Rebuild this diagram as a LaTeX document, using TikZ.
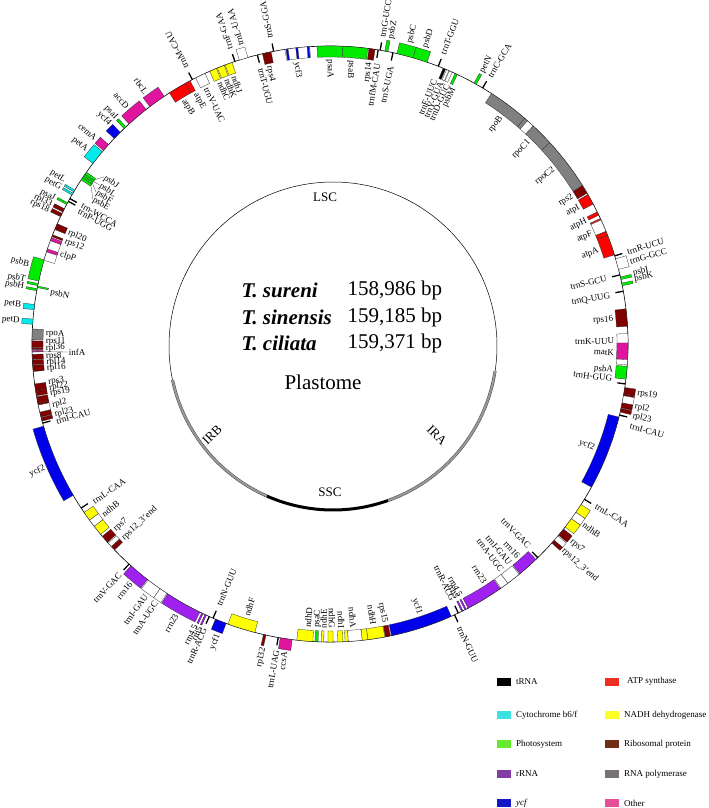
\documentclass[tikz,border=0pt]{standalone}
\usepackage{fontspec}
\setmainfont{Liberation Serif}
\usepackage{xcolor}

% map colours
\definecolor{trnacol}{RGB}{0,0,0}
\definecolor{cytcol}{RGB}{0,235,235}
\definecolor{pscol}{RGB}{0,235,0}
\definecolor{rrnacol}{RGB}{160,32,240}
\definecolor{ycfcol}{RGB}{0,0,235}
\definecolor{atpcol}{RGB}{255,0,0}
\definecolor{ndhcol}{RGB}{255,255,0}
\definecolor{ribocol}{RGB}{128,0,0}
\definecolor{polcol}{RGB}{128,128,128}
\definecolor{othercol}{RGB}{225,20,160}
% legend colours
\definecolor{legtrna}{RGB}{0,0,0}
\definecolor{legcyt}{RGB}{60,225,225}
\definecolor{legps}{RGB}{100,235,50}
\definecolor{legrrna}{RGB}{130,60,165}
\definecolor{legycf}{RGB}{20,20,200}
\definecolor{legatp}{RGB}{238,45,35}
\definecolor{legndh}{RGB}{255,255,40}
\definecolor{legribo}{RGB}{110,45,20}
\definecolor{legpol}{RGB}{120,115,115}
\definecolor{legother}{RGB}{228,80,150}

\newcounter{lab}
\newcommand{\geneout}[3]{%
  \filldraw[genebox,fill=#3] ({90-#1}:298) arc[start angle={90-#1},end angle={90-#2},radius=298]
    -- ({90-#2}:309) arc[start angle={90-#2},end angle={90-#1},radius=309] -- cycle;}
\newcommand{\genein}[3]{%
  \filldraw[genebox,fill=#3] ({90-#1}:298) arc[start angle={90-#1},end angle={90-#2},radius=298]
    -- ({90-#2}:287) arc[start angle={90-#2},end angle={90-#1},radius=287] -- cycle;}
\newcommand{\trnaout}[1]{\draw[trnatick] ({90-#1}:298) -- ({90-#1}:306);}
\newcommand{\trnain}[1]{\draw[trnatick] ({90-#1}:298) -- ({90-#1}:290);}
\newcommand{\labout}[2]{%
  \stepcounter{lab}%
  \pgfmathtruncatemacro{\lflip}{and(#1>180,#1<328)}%
  \ifnum\lflip=1
    \node[glabel,anchor=east,rotate={270-#1}] (lab\thelab) at ({90-#1}:310.5) {#2};
  \else
    \node[glabel,anchor=west,rotate={90-#1}] (lab\thelab) at ({90-#1}:310.5) {#2};
  \fi}
\newcommand{\labin}[2]{%
  \stepcounter{lab}%
  \pgfmathtruncatemacro{\lflip}{and(#1>5,#1<180)}%
  \ifnum\lflip=1
    \node[glabel,anchor=east,rotate={90-#1}] (lab\thelab) at ({90-#1}:285) {#2};
  \else
    \node[glabel,anchor=west,rotate={270-#1}] (lab\thelab) at ({90-#1}:285) {#2};
  \fi}

\begin{document}
\begin{tikzpicture}[x=1pt,y=1pt,
  genebox/.style={draw=black!80,line width=0.3pt},
  trnatick/.style={draw=black,line width=1.3pt},
  glabel/.style={font=\fontsize{9}{10}\selectfont,inner sep=0.6pt},
  leader/.style={draw=black!70,line width=0.3pt},
  legbox/.style={minimum width=14pt,minimum height=8pt,inner sep=0pt},
  legtext/.style={font=\fontsize{9}{10}\selectfont,anchor=west,inner sep=0pt}]
\fill[white] (-330,-464) rectangle (379,344);
\useasboundingbox (-330,-464) rectangle (379,344);

% inner circle with regions
\draw[line width=0.5pt] (3,-2) circle[radius=164];
\draw[line width=3pt,black!70] (3,-2) ++({90-98.8}:164) arc[start angle={90-98.8},end angle={90-160.4},radius=164];
\draw[line width=2pt,gray!80] (3,-2) ++({90-98.8}:164) arc[start angle={90-98.8},end angle={90-160.4},radius=164];
\draw[line width=3pt,black] (3,-2) ++({90-160.4}:164) arc[start angle={90-160.4},end angle={90-203.8},radius=164];
\draw[line width=3pt,black!70] (3,-2) ++({90-203.8}:164) arc[start angle={90-203.8},end angle={90-258},radius=164];
\draw[line width=2pt,gray!80] (3,-2) ++({90-203.8}:164) arc[start angle={90-203.8},end angle={90-258},radius=164];
\node[font=\fontsize{13}{15}\selectfont] (lsc) at (-5,147) {LSC};
\node[font=\fontsize{13}{15}\selectfont] (ssc) at (0,-148) {SSC};
\node[font=\fontsize{13}{15}\selectfont,rotate=45] (irb) at (-118,-91) {IRB};
\node[font=\fontsize{13}{15}\selectfont,rotate=-45] (ira) at (107,-91) {IRA};
\node[font=\fontsize{21}{24}\selectfont\bfseries\itshape,anchor=west] (sp1) at (-92,54) {T. sureni};
\node[font=\fontsize{21}{24}\selectfont\bfseries\itshape,anchor=west] (sp2) at (-92,27) {T. sinensis};
\node[font=\fontsize{21}{24}\selectfont\bfseries\itshape,anchor=west] (sp3) at (-92,1) {T. ciliata};
\node[font=\fontsize{21}{24}\selectfont,anchor=west] (bp1) at (14,54) {158,986 bp};
\node[font=\fontsize{21}{24}\selectfont,anchor=west] (bp2) at (14,27) {159,185 bp};
\node[font=\fontsize{21}{24}\selectfont,anchor=west] (bp3) at (14,1) {159,371 bp};
\node[font=\fontsize{21}{24}\selectfont] (plast) at (-7,-38) {Plastome};

% outer ring
\draw[line width=0.6pt] (0,0) circle[radius=298];

% LSC, right half
\genein{357.5}{362.5}{pscol}
\genein{362.5}{367.3}{pscol}
\genein{7.5}{8.7}{ribocol}
\trnain{9.3}
\trnaout{9.7}
\geneout{10.6}{11.2}{pscol}
\trnain{12.2}
\geneout{13}{16.2}{pscol}
\geneout{16.2}{19}{pscol}
\trnaout{21.3}
\genein{22.3}{22.8}{trnacol}
\genein{23.0}{23.5}{white}
\genein{23.6}{24.2}{white}
\genein{24.8}{25.3}{pscol}
\geneout{28.9}{29.4}{pscol}
\trnaout{30.8}
\genein{32.8}{40.8}{polcol}
\genein{40.8}{41.5}{polcol}
\genein{41.5}{43}{white}
\genein{43}{47.5}{polcol}
\genein{47.5}{57.8}{polcol}
\genein{57.9}{59.6}{ribocol}
\genein{59.9}{62}{atpcol}
\genein{63.7}{64.4}{atpcol}
\genein{65.1}{65.4}{atpcol}
\genein{65.4}{67.8}{white}
\genein{67.8}{68.6}{atpcol}
\genein{68.6}{72.6}{atpcol}
\trnaout{72.8}
\geneout{73.4}{75.5}{white}
\trnain{76.6}
\geneout{77.0}{77.5}{pscol}
\geneout{78.2}{78.7}{pscol}
\trnain{79.8}
\genein{83.2}{86.6}{ribocol}
\genein{88}{94}{white}
\genein{89.8}{93}{othercol}
\genein{94.3}{96.8}{pscol}
\trnain{97.7}
% IRA
\geneout{98.4}{99.6}{ribocol}
\geneout{99.6}{100}{ribocol}
\geneout{100}{101.4}{white}
\geneout{101.4}{102.4}{ribocol}
\geneout{102.5}{103.2}{ribocol}
\trnaout{103.8}
\genein{104.2}{118.7}{ycfcol}
\trnaout{121.4}
\geneout{122.6}{124.4}{ndhcol}
\geneout{124.4}{125.9}{white}
\geneout{125.9}{127.9}{ndhcol}
\geneout{128.4}{129.9}{ribocol}
\geneout{130.1}{131.2}{white}
\geneout{131.2}{131.9}{ribocol}
\trnain{135.8}
\genein{136.3}{140.4}{rrnacol}
\genein{140.6}{143.4}{white}
\genein{143.4}{145}{white}
\genein{145.2}{152.4}{rrnacol}
\genein{152.8}{153.1}{rrnacol}
\genein{153.5}{153.8}{rrnacol}
\trnain{154.5}
\trnaout{155.3}
\genein{156}{168.1}{ycfcol}
% SSC
\genein{168.3}{169.3}{ribocol}
\genein{169.4}{172.7}{ndhcol}
\genein{172.7}{173.8}{ndhcol}
\genein{173.8}{176.5}{white}
\genein{176.5}{177.1}{ndhcol}
\genein{177.5}{178.5}{ndhcol}
\genein{179.4}{180.4}{ndhcol}
\genein{181.2}{181.7}{ndhcol}
\genein{182.3}{182.9}{pscol}
\genein{183.3}{186.4}{ndhcol}
\geneout{187.3}{189.6}{othercol}
\trnaout{190}
\geneout{192.4}{192.9}{ribocol}
\genein{194.6}{200}{ndhcol}
% IRB
\geneout{200.4}{202.6}{ycfcol}
\trnain{203.1}
\trnaout{203.9}
\geneout{204.5}{204.8}{rrnacol}
\geneout{205.2}{205.5}{rrnacol}
\geneout{205.9}{213}{rrnacol}
\geneout{213.2}{214.8}{white}
\geneout{214.8}{217.6}{white}
\geneout{217.8}{221.9}{rrnacol}
\trnaout{222.4}
\genein{226.3}{227.2}{ribocol}
\genein{227.2}{228.1}{white}
\genein{228.3}{229.8}{ribocol}
\genein{230.3}{232.3}{ndhcol}
\genein{232.3}{233.8}{white}
\genein{233.8}{235.6}{ndhcol}
\trnain{236.6}
\geneout{239.5}{254}{ycfcol}
\trnain{254.6}
\genein{255}{255.7}{ribocol}
\genein{255.8}{256.8}{ribocol}
\genein{256.8}{258.2}{white}
\genein{258.2}{258.6}{ribocol}
\genein{258.6}{259.8}{ribocol}
% LSC, left half
\genein{260}{261}{ribocol}
\genein{261}{262.3}{ribocol}
\genein{264.7}{265.9}{ribocol}
\genein{266}{266.9}{ribocol}
\genein{267}{268}{ribocol}
\genein{268.45}{268.75}{othercol}
\genein{268.9}{269.2}{ribocol}
\genein{269.3}{270.6}{ribocol}
\genein{270.8}{272.9}{polcol}
\geneout{273.8}{274.8}{cytcol}
\geneout{276.6}{277.6}{cytcol}
\geneout{280.3}{280.7}{pscol}
\genein{280.9}{281.2}{pscol}
\geneout{281.3}{281.7}{pscol}
\geneout{282.2}{286.4}{pscol}
\genein{286.3}{290.3}{white}
\genein{288}{288.6}{othercol}
\genein{290.3}{290.9}{othercol}
\genein{291.1}{291.5}{ribocol}
\genein{292.6}{293.8}{ribocol}
\geneout{295.3}{296}{ribocol}
\geneout{296.3}{297}{ribocol}
\geneout{297.9}{298.3}{pscol}
\trnain{298.6}
\trnain{299.2}
\geneout{300}{300.4}{cytcol}
\geneout{300.7}{301.1}{cytcol}
\genein{303.4}{303.9}{pscol}
\genein{303.9}{304.3}{pscol}
\genein{304.3}{304.7}{pscol}
\genein{304.7}{305.2}{pscol}
\geneout{307.3}{310.2}{cytcol}
\geneout{310.5}{312}{othercol}
\geneout{313.6}{315.3}{ycfcol}
\geneout{316.3}{316.8}{pscol}
\geneout{317.6}{321.9}{othercol}
\geneout{322.8}{326.2}{othercol}
\genein{327.4}{331}{atpcol}
\genein{331}{332}{atpcol}
\trnaout{332.5}
\genein{333.2}{335.2}{white}
\genein{336.2}{337.6}{ndhcol}
\genein{337.8}{339.2}{ndhcol}
\genein{339.4}{340.8}{ndhcol}
\trnaout{341.4}
\geneout{342.3}{344}{white}
\trnain{345.9}
\genein{346.9}{348.6}{ribocol}
\trnaout{349.1}
\genein{351.3}{356.1}{white}
\genein{351.5}{351.9}{ycfcol}
\genein{353.4}{353.8}{ycfcol}
\genein{355.6}{356}{ycfcol}

% labels outside the ring
\labout{9.7}{trnG-UCC}
\labout{11.3}{psbZ}
\labout{14.8}{psbC}
\labout{17.8}{psbD}
\labout{21.3}{trnT-GGU}
\labout{29.2}{petN}
\labout{30.9}{trnC-GCA}
\labout{72.8}{trnR-UCU}
\labout{74.6}{trnG-GCC}
\labout{76.9}{psbI}
\labout{78.0}{psbK}
\labout{99.1}{rps19}
\labout{101.6}{rpl2}
\labout{103.4}{rpl23}
\labout{105.3}{trnI-CAU}
\labout{121.3}{trnL-CAA}
\labout{125.4}{ndhB}
\labout{129.2}{rps7}
\labout{131.5}{rps12\_3'end}
\labout{155.4}{trnN-GUU}
\labout{188.4}{ccsA}
\labout{189.9}{trnL-UAG}
\labout{192.4}{rpl32}
\labout{201.1}{ycf1}
\labout{203.8}{trnR-ACG}
\labout{204.7}{rrn5}
\labout{205.6}{rrn4.5}
\labout{209.6}{rrn23}
\labout{214}{trnA-UGC}
\labout{216.2}{trnI-GAU}
\labout{219.8}{rrn16}
\labout{222.4}{trnV-GAC}
\labout{246.5}{ycf2}
\labout{274.3}{petD}
\labout{277.2}{petB}
\labout{280.6}{psbH}
\labout{281.9}{psbT}
\labout{284.8}{psbB}
\labout{295.4}{rps18}
\labout{296.6}{rpl33}
\labout{297.8}{psaJ}
\labout{300.1}{petG}
\labout{301.6}{petL}
\labout{308.6}{petA}
\labout{311.2}{cemA}
\labout{315}{ycf4}
\labout{316.6}{psaI}
\labout{319.4}{accD}
\labout{323.8}{rbcL}
\labout{332.5}{trnM-CAU}
\labout{341.3}{trnF-GAA}
\labout{343.4}{trnL-UAA}
\labout{348.9}{trnS-GGA}

% labels inside the ring
\labin{0}{psaA}
\labin{4.3}{psaB}
\labin{8.0}{rps14}
\labin{9.6}{trnfM-CAU}
\labin{12.4}{trnS-UGA}
\labin{21.6}{trnE-UUC}
\labin{23.0}{trnY-GUA}
\labin{24.4}{trnD-GUC}
\labin{25.8}{psbM}
\labin{37}{rpoB}
\labin{44.5}{rpoC1}
\labin{52}{rpoC2}
\labin{58.6}{rps2}
\labin{61.2}{atpI}
\labin{64.4}{atpH}
\labin{67.2}{atpF}
\labin{70.8}{atpA}
\labin{76.7}{trnS-GCU}
\labin{80.3}{trnQ-UUG}
\labin{85.0}{rps16}
\labin{89.4}{trnK-UUU}
\labin{91.7}{matK}
\labin{95.3}{psbA}
\labin{97.0}{trnH-GUG}
\labin{111.5}{ycf2}
\labin{135.5}{trnV-GAC}
\labin{138.5}{rrn16}
\labin{140.7}{trnI-GAU}
\labin{142.8}{trnA-UGC}
\labin{147}{rrn23}
\labin{152.7}{rrn4.5}
\labin{153.5}{rrn5}
\labin{154.4}{trnR-ACG}
\labin{161.6}{ycf1}
\labin{168.9}{rps15}
\labin{171.2}{ndhH}
\labin{175.3}{ndhA}
\labin{177.7}{ndhI}
\labin{179.6}{ndhG}
\labin{181.3}{ndhE}
\labin{182.6}{psaC}
\labin{184.5}{ndhD}
\labin{197}{ndhF}
\labin{203}{trnN-GUU}
\labin{226.7}{rps12\_3'end}
\labin{229.2}{rps7}
\labin{233.1}{ndhB}
\labin{236.3}{trnL-CAA}
\labin{254.2}{trnI-CAU}
\labin{255.6}{rpl23}
\labin{257.6}{rpl2}
\labin{259.9}{rps19}
\labin{261.1}{rpl22}
\labin{262.3}{rps3}
\labin{265.1}{rpl16}
\labin{266.3}{rpl14}
\labin{267.4}{rps8}
\labin{269.2}{rpl36}
\labin{270.6}{rps11}
\labin{272.1}{rpoA}
\labin{280.4}{psbN}
\labin{288.4}{clpP}
\labin{291.2}{rps12}
\labin{293.1}{rpl20}
\labin{297.9}{trnP-UGG}
\labin{299.2}{trn-WCCA}
\labin{329}{atpB}
\labin{331.8}{atpE}
\labin{334.2}{trnV-UAC}
\labin{337.3}{ndhC}
\labin{338.8}{ndhK}
\labin{340.3}{ndhJ}
\labin{345.9}{trnT-UGU}
\labin{347.6}{rps4}
\labin{353.3}{ycf3}

% labels with leaders
\node[glabel,anchor=west] (infAlab) at (-262,-8) {infA};
\draw[leader] ({90-268.6}:298) -- (infAlab.west);
\node[glabel,anchor=west,rotate={270-306.5}] (psbJlab) at ({90-306.5}:281) {psbJ};
\node[glabel,anchor=west,rotate={270-304.6}] (psbLlab) at ({90-304.6}:280) {psbL};
\node[glabel,anchor=west,rotate={270-303}] (psbFlab) at ({90-303}:279) {psbF};
\node[glabel,anchor=west,rotate={270-301.4}] (psbElab) at ({90-301.4}:278) {psbE};
\draw[leader] ({90-304.9}:287) -- (psbJlab.west);
\draw[leader] ({90-304.5}:287) -- (psbLlab.west);
\draw[leader] ({90-304.1}:287) -- (psbFlab.west);
\draw[leader] ({90-303.6}:287) -- (psbElab.west);

% legend
\node[legbox,fill=legtrna] (k1) at (174,-337.7) {};
\node[legtext] (t1) at (186,-337.7) {tRNA};
\node[legbox,fill=legcyt] (k2) at (174,-371) {};
\node[legtext] (t2) at (186,-371) {Cytochrome b6/f};
\node[legbox,fill=legps] (k3) at (174,-400.3) {};
\node[legtext] (t3) at (186,-400.3) {Photosystem};
\node[legbox,fill=legrrna] (k4) at (174,-430) {};
\node[legtext] (t4) at (186,-430) {rRNA};
\node[legbox,fill=legycf] (k5) at (174,-459) {};
\node[legtext] (t5) at (186,-459) {\textit{ycf}};
\node[legbox,fill=legatp] (k6) at (282,-337.7) {};
\node[legtext] (t6) at (297,-337.7) {ATP synthase};
\node[legbox,fill=legndh] (k7) at (282,-371) {};
\node[legtext] (t7) at (294,-371) {NADH dehydrogenase};
\node[legbox,fill=legribo] (k8) at (282,-400.3) {};
\node[legtext] (t8) at (294,-400.3) {Ribosomal protein};
\node[legbox,fill=legpol] (k9) at (282,-430) {};
\node[legtext] (t9) at (294,-430) {RNA polymerase};
\node[legbox,fill=legother] (k10) at (282,-459) {};
\node[legtext] (t10) at (294,-459) {Other};
\end{tikzpicture}
\end{document}
